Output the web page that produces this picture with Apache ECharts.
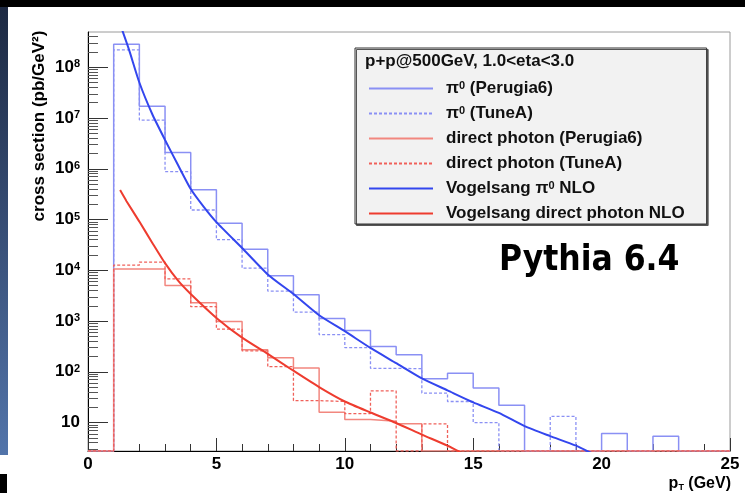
<!DOCTYPE html>
<html><head><meta charset="utf-8">
<script src="https://cdn.jsdelivr.net/npm/echarts@6/dist/echarts.min.js"></script>
<style>html,body{margin:0;padding:0;background:#fff}#c{width:745px;height:493px}</style>
</head><body><div id="c"></div>
<script>
// ---- data ----
const binEdges = [0,1,2,3,4,5,6,7,8,9,10,11,12,13,14,15,16,17,18,19,20,21,22,23,24,25];
const pi0Perugia6 = [0,2.84e8,1.7e7,2.1e6,3.85e5,8.4e4,2.6e4,7.8e3,3.3e3,1.12e3,650,316,217,73,94,48,22,0,0,0,6.1,0,5.4,0,0];
const pi0TuneA    = [0,2.2e8,9.1e6,8.8e5,1.54e5,4.0e4,1.1e4,3.9e3,1.5e3,540,300,117,115,38,26,10,0,0,13.2,0,0,0,0,0,0];
const gamPerugia6 = [0,1.06e4,1.06e4,5.0e3,2.28e3,980,272,190,119,16,11.5,10.6,9.5,0,0,0,0,0,0,0,0,0,0,0,0];
const gamTuneA    = [0,1.26e4,1.45e4,6.8e3,1.92e3,690,258,126,27,26,15,42,0,9.4,0,0,0,0,0,0,0,0,0,0,0];
const nloPiX  = [1.3,1.6,2,2.5,3,3.5,4,4.5,5,6,7,8,9,10,11,12,13,14,15,16,17,18,19,19.6];
const nloPiY  = [6.0e8,2.2e8,5.0e7,1.2e7,3.7e6,1.2e6,4.0e5,1.8e5,8.9e4,2.75e4,8.3e3,3.4e3,1.3e3,630,295,148,74,43,25,15.5,8.5,5.4,3.5,2.5];
const nloGamX = [1.25,1.5,2,2.5,3,3.5,4,5,6,7,8,9,10,11,12,13,14,14.5];
const nloGamY = [3.8e5,2.3e5,9.1e4,3.5e4,1.38e4,6.3e3,3.4e3,1.15e3,470,225,105,50,26,15.8,9.8,5.8,3.5,2.6];
const yMajorTicks = [10,1e2,1e3,1e4,1e5,1e6,1e7,1e8];
const xTickLabels = [0,5,10,15,20,25];
const seriesNames = ['π0 (Perugia6)','π0 (TuneA)','direct photon (Perugia6)','direct photon (TuneA)','Vogelsang π0 NLO','Vogelsang direct photon NLO'];
const legendTitle = 'p+p@500GeV, 1.0<eta<3.0';

// ---- setup ----
const yMin = 2.75, yMax = 4.95e8;
const FONT = 'Liberation Sans';
const minorLog = [];
for (let n = 0; n <= 8; n++) for (let k = 2; k <= 9; k++) {
  const v = Math.log10(k * Math.pow(10, n));
  if (v > Math.log10(yMin) && v < Math.log10(yMax)) minorLog.push(v);
}
function hist(vals) {
  const d = vals.map((v, i) => [binEdges[i], v > 0 ? v : yMin]);
  const last = vals[vals.length - 1];
  d.push([binEdges[vals.length], last > 0 ? last : yMin]);
  return d;
}
function curve(xs, ys) { return xs.map((x, i) => [x, ys[i]]); }

const cBlueH = '#8a90f4', cRedH = '#f2877f', cRedHd = '#f0605a', cBlue = '#3346ee', cRed = '#ee3c2f';

const chart = echarts.init(document.getElementById('c'), null, {renderer: 'canvas'});
const legendFmt = {};
legendFmt[seriesNames[0]] = '{t|π}{s|0}{t| (Perugia6)}';
legendFmt[seriesNames[1]] = '{t|π}{s|0}{t| (TuneA)}';
legendFmt[seriesNames[2]] = '{t|direct photon (Perugia6)}';
legendFmt[seriesNames[3]] = '{t|direct photon (TuneA)}';
legendFmt[seriesNames[4]] = '{t|Vogelsang π}{s|0}{t| NLO}';
legendFmt[seriesNames[5]] = '{t|Vogelsang direct photon NLO}';

const base = {type: 'line', showSymbol: false, symbol: 'none', animation: false, clip: true, xAxisIndex: 0, yAxisIndex: 0};

chart.setOption({
  animation: false,
  textStyle: {fontFamily: FONT},
  grid: {left: 88, top: 32, right: 15, bottom: 42, show: true, borderColor: '#9a9a9a', borderWidth: 1, outerBoundsMode: 'none'},
  title: [
    {text: legendTitle, left: 365, top: 53, padding: 0, textStyle: {fontFamily: FONT, fontSize: 17, fontWeight: 'bold', color: '#111'}},
    {text: 'Pythia 6.4', left: 499, top: 243, padding: 0, textStyle: {fontFamily: 'DejaVu Sans Condensed, DejaVu Sans', fontSize: 35, fontWeight: 'bold', color: '#000'}}
  ],
  legend: {
    data: seriesNames, orient: 'vertical', left: 355, top: 48,
    padding: [32, 22, 2, 13], itemGap: 8, itemWidth: 64, itemHeight: 14,
    backgroundColor: '#f2f2f2', borderColor: '#333', borderWidth: 1,
    shadowColor: '#555', shadowOffsetX: 1.5, shadowOffsetY: 1.5, shadowBlur: 0,
    selectedMode: false,
    itemStyle: {opacity: 0},
    formatter: n => legendFmt[n],
    textStyle: {padding: [0, 0, 0, 8], rich: {
      t: {fontFamily: FONT, fontSize: 17, fontWeight: 'bold', color: '#111'},
      s: {fontFamily: FONT, fontSize: 11, fontWeight: 'bold', color: '#111', verticalAlign: 'top'}
    }}
  },
  xAxis: {
    type: 'value', min: 0, max: 25, interval: 5,
    axisLine: {lineStyle: {color: '#000', width: 1}},
    axisTick: {inside: true, length: 13, lineStyle: {color: '#333'}},
    minorTick: {show: true, splitNumber: 5, length: 7, lineStyle: {color: '#333'}},
    splitLine: {show: false},
    axisLabel: {margin: 5, fontSize: 17, fontWeight: 'bold', color: '#000', fontFamily: FONT,
      customValues: xTickLabels}
  },
  yAxis: [
    {
      type: 'log', min: yMin, max: yMax, logBase: 10, splitNumber: 10,
      axisLine: {lineStyle: {color: '#000', width: 1}},
      axisTick: {inside: true, length: 20, lineStyle: {color: '#333'}},
      splitLine: {show: false},
      axisLabel: {margin: 8, color: '#000', showMinLabel: false, showMaxLabel: false,
        formatter: v => { const e = Math.round(Math.log10(v)); if (yMajorTicks.indexOf(Math.pow(10, e)) < 0) return ''; return e === 1 ? '{b|10}' : '{b|10}{s|' + e + '}'; },
        rich: {
          b: {fontFamily: FONT, fontSize: 17, fontWeight: 'bold', color: '#000'},
          s: {fontFamily: FONT, fontSize: 11, fontWeight: 'bold', color: '#000', verticalAlign: 'top'}
        }
      }
    },
    {
      type: 'value', min: Math.log10(yMin), max: Math.log10(yMax), position: 'left',
      axisLine: {show: false}, axisLabel: {show: false}, splitLine: {show: false},
      axisTick: {show: true, inside: true, length: 10, customValues: minorLog, lineStyle: {color: '#555'}}
    }
  ],
  graphic: [
    {type: 'rect', silent: true, z: -10, shape: {x: 0, y: 0, width: 745, height: 7}, style: {fill: '#000'}},
    {type: 'rect', silent: true, z: -10, shape: {x: 0, y: 7, width: 8, height: 448},
      style: {fill: new echarts.graphic.LinearGradient(0, 0, 0, 1, [{offset: 0, color: '#1d2942'}, {offset: 1, color: '#5274aa'}])}},
    {type: 'rect', silent: true, z: -10, shape: {x: 0, y: 474, width: 7, height: 19}, style: {fill: '#000'}},
    {type: 'text', silent: true, x: 39, y: 126, rotation: Math.PI / 2,
      style: {text: 'cross section (pb/GeV²)', fontFamily: FONT, fontSize: 17, fontWeight: 'bold', fill: '#000', align: 'center', verticalAlign: 'middle'}},
    {type: 'text', silent: true, x: 731, y: 484,
      style: {text: '{b|p}{u|T}{b| (GeV)}', align: 'right', verticalAlign: 'middle',
        rich: {b: {fontFamily: FONT, fontSize: 16, fontWeight: 'bold', fill: '#000'},
               u: {fontFamily: FONT, fontSize: 9, fontWeight: 'bold', fill: '#000', verticalAlign: 'bottom'}}}}
  ],
  series: [
    Object.assign({}, base, {name: seriesNames[0], step: 'end', data: hist(pi0Perugia6), lineStyle: {color: cBlueH, width: 1.5}, itemStyle: {color: cBlueH}, z: 2}),
    Object.assign({}, base, {name: seriesNames[1], step: 'end', data: hist(pi0TuneA), lineStyle: {color: cBlueH, width: 1.3, type: [3, 2]}, itemStyle: {color: cBlueH}, z: 2}),
    Object.assign({}, base, {name: seriesNames[2], step: 'end', data: hist(gamPerugia6), lineStyle: {color: cRedH, width: 1.5}, itemStyle: {color: cRedH}, z: 3}),
    Object.assign({}, base, {name: seriesNames[3], step: 'end', data: hist(gamTuneA), lineStyle: {color: cRedHd, width: 1.3, type: [3, 2]}, itemStyle: {color: cRedHd}, z: 3}),
    Object.assign({}, base, {name: seriesNames[4], smooth: 0.2, data: curve(nloPiX, nloPiY), lineStyle: {color: cBlue, width: 2}, itemStyle: {color: cBlue}, z: 4}),
    Object.assign({}, base, {name: seriesNames[5], smooth: 0.2, data: curve(nloGamX, nloGamY), lineStyle: {color: cRed, width: 2}, itemStyle: {color: cRed}, z: 4})
  ]
});
</script></body></html>
